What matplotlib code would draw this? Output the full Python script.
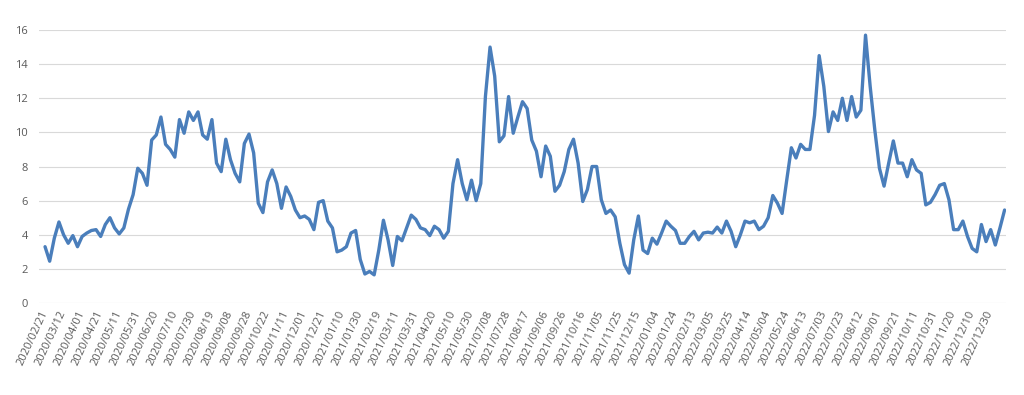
import numpy as np
import matplotlib
matplotlib.use("Agg")
from matplotlib import pyplot as plt

plt.rcParams['font.family'] = ['Open Sans', 'DejaVu Sans']

# one value every 5 categories (days in the sheet)
step = 5
values = [
    3.3, 2.45, 3.8, 4.75, 4.0, 3.5, 3.95, 3.3, 3.9, 4.1,
    4.25, 4.3, 3.9, 4.6, 5.0, 4.4, 4.05, 4.4, 5.5, 6.35,
    7.9, 7.6, 6.9, 9.55, 9.85, 10.9, 9.3, 9.0, 8.55, 10.75,
    9.95, 11.2, 10.7, 11.2, 9.85, 9.6, 10.75, 8.2, 7.7, 9.6,
    8.4, 7.6, 7.1, 9.35, 9.9, 8.8, 5.85, 5.3, 7.1, 7.8,
    7.0, 5.55, 6.8, 6.25, 5.45, 5.0, 5.1, 4.9, 4.3, 5.9,
    6.0, 4.8, 4.4, 3.0, 3.1, 3.3, 4.1, 4.25, 2.55, 1.7,
    1.85, 1.65, 3.1, 4.85, 3.7, 2.2, 3.9, 3.65, 4.4, 5.15,
    4.9, 4.4, 4.3, 3.95, 4.5, 4.3, 3.8, 4.2, 7.0, 8.4,
    7.0, 6.05, 7.2, 6.0, 7.0, 12.1, 15.0, 13.3, 9.45, 9.8,
    12.1, 9.95, 10.9, 11.8, 11.4, 9.55, 8.9, 7.4, 9.2, 8.6,
    6.55, 6.9, 7.7, 9.0, 9.6, 8.2, 5.95, 6.65, 8.0, 8.0,
    6.05, 5.25, 5.45, 5.05, 3.5, 2.25, 1.75, 3.7, 5.1, 3.1,
    2.9, 3.8, 3.45, 4.1, 4.8, 4.5, 4.25, 3.5, 3.5, 3.9,
    4.2, 3.7, 4.1, 4.15, 4.1, 4.45, 4.1, 4.8, 4.2, 3.3,
    4.0, 4.8, 4.7, 4.8, 4.3, 4.5, 5.0, 6.3, 5.85, 5.25,
    7.2, 9.1, 8.5, 9.3, 9.0, 9.0, 11.0, 14.5, 12.7, 10.05,
    11.2, 10.7, 12.0, 10.7, 12.1, 10.9, 11.3, 15.7, 12.7, 10.15,
    7.9, 6.85, 8.2, 9.5, 8.2, 8.2, 7.4, 8.4, 7.8, 7.6,
    5.75, 5.9, 6.35, 6.9, 7.0, 6.05, 4.3, 4.3, 4.8, 3.9,
    3.2, 3.0, 4.6, 3.6, 4.3, 3.4, 4.4, 5.45,
]

# category labels shown on the axis, one every 20 categories
tick_labels = [
    "2020/02/21", "2020/03/12", "2020/04/01", "2020/04/21", "2020/05/11",
    "2020/05/31", "2020/06/20", "2020/07/10", "2020/07/30", "2020/08/19",
    "2020/09/08", "2020/09/28", "2020/10/22", "2020/11/11", "2020/12/01",
    "2020/12/21", "2021/01/10", "2021/01/30", "2021/02/19", "2021/03/11",
    "2021/03/31", "2021/04/20", "2021/05/10", "2021/05/30", "2021/07/08",
    "2021/07/28", "2021/08/17", "2021/09/06", "2021/09/26", "2021/10/16",
    "2021/11/05", "2021/11/25", "2021/12/15", "2022/01/04", "2022/01/24",
    "2022/02/13", "2022/03/05", "2022/03/25", "2022/04/14", "2022/05/04",
    "2022/05/24", "2022/06/13", "2022/07/03", "2022/07/23", "2022/08/12",
    "2022/09/01", "2022/09/21", "2022/10/11", "2022/10/31", "2022/11/20",
    "2022/12/10", "2022/12/30",
]
label_every = 20

x = np.arange(len(values)) * step

fig = plt.figure(figsize=(10.24, 3.95), dpi=100)
ax = fig.add_axes([0.0381, 0.2329, 0.9443, 0.6911])

ax.plot(x, values, color="#4a7ebb", linewidth=2.4,
        solid_joinstyle="round", solid_capstyle="round")

ax.set_ylim(0, 16)
ax.set_yticks(range(0, 17, 2))
ax.set_xlim(-6.5, 1036.5)
ax.set_xticks(np.arange(len(tick_labels)) * label_every)
ax.set_xticklabels(tick_labels, rotation=65, ha="right", va="center",
                   rotation_mode="anchor")

ax.grid(axis="y", color="#d9d9d9", linewidth=0.8)
ax.set_axisbelow(True)
for s in ax.spines.values():
    s.set_visible(False)
ax.tick_params(axis="both", length=0, labelsize=8, colors="#595959")
ax.tick_params(axis="y", pad=8)
ax.tick_params(axis="x", pad=6)

fig.savefig("out.png", dpi=100)
